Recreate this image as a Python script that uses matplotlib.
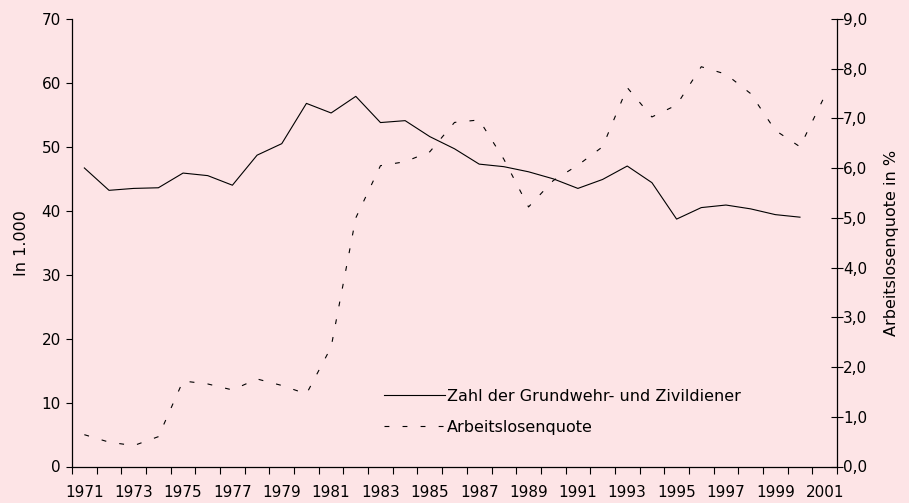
import matplotlib
matplotlib.use("Agg")
import matplotlib.pyplot as plt
import numpy as np
from matplotlib.ticker import FixedLocator, FuncFormatter

plt.rcParams['font.family'] = ['DejaVu Sans']
plt.rcParams['lines.scale_dashes'] = False

years = list(range(1971, 2002))
tick_labels = [str(y) for y in years if (y - 1971) % 2 == 0]

# Zahl der Grundwehr- und Zivildiener (in 1.000), 1971-2000
dienst = [46.7, 43.2, 43.5, 43.6, 45.9, 45.5, 44.0, 48.7, 50.5, 56.8,
          55.3, 57.9, 53.8, 54.1, 51.6, 49.7, 47.3, 46.9, 46.1, 45.0,
          43.5, 44.9, 47.0, 44.4, 38.7, 40.5, 40.9, 40.3, 39.4, 39.0]

# Arbeitslosenquote in %, 1971-2001
alq = [0.64, 0.49, 0.42, 0.60, 1.72, 1.66, 1.54, 1.76, 1.63, 1.46,
       2.40, 5.00, 6.05, 6.13, 6.33, 6.92, 6.97, 6.18, 5.22, 5.75,
       6.06, 6.43, 7.62, 7.03, 7.27, 8.04, 7.89, 7.50, 6.76, 6.43, 7.45]

label_dienst = "Zahl der Grundwehr- und Zivildiener"
label_alq = "Arbeitslosenquote"

bg = '#fde4e6'
W, H = 909, 503
fig = plt.figure(figsize=(W / 100, H / 100), dpi=100, facecolor=bg)
L, R, T, B = 72, 837, 19, 466.5
ax = fig.add_axes([L / W, 1 - B / H, (R - L) / W, (B - T) / H])
ax.set_facecolor(bg)
ax2 = ax.twinx()

x = np.arange(len(years))
x_d = x[:len(dienst)]
l1, = ax.plot(x_d, dienst, color='black', lw=0.8, label=label_dienst)
l2, = ax2.plot(x, alq, color='black', lw=0.8, linestyle=(0, (3.5, 9.5)), label=label_alq)

ax.set_xlim(-0.5, len(years) - 0.5)
ax.set_ylim(0, 70)
ax2.set_ylim(0, 9)
ax.set_yticks(range(0, 71, 10))
ax2.set_yticks(range(0, 10))
ax2.yaxis.set_major_formatter(FuncFormatter(lambda v, p: f"{v:.1f}".replace('.', ',')))

ax.xaxis.set_major_locator(FixedLocator(np.arange(-0.5, len(years), 1)))
ax.xaxis.set_major_formatter(FuncFormatter(lambda v, p: ''))
ax.xaxis.set_minor_locator(FixedLocator(x[::2]))
ax.set_xticklabels(tick_labels, minor=True)
ax.tick_params(axis='x', which='major', direction='out', length=5, width=0.8, color='black')
ax.tick_params(axis='x', which='minor', length=0, pad=13, labelsize=11)
ax.tick_params(axis='y', direction='out', length=4, width=0.8, labelsize=11, pad=4)
ax2.tick_params(axis='y', direction='inout', length=9, width=0.8, labelsize=11, pad=0)

for a in (ax, ax2):
    a.spines['top'].set_visible(False)
    for s in ('left', 'right', 'bottom'):
        a.spines[s].set_linewidth(0.9)
ax.spines['right'].set_visible(False)
ax2.spines['left'].set_visible(False)
ax2.spines['bottom'].set_visible(False)

ax.set_ylabel("In 1.000", fontsize=11.5, labelpad=9)
ax2.set_ylabel("Arbeitslosenquote in %", fontsize=11.5, labelpad=12)

leg = ax2.legend(handles=[l1, l2], loc='lower left', bbox_to_anchor=(384 / W, 1 - 435 / H),
                 bbox_transform=fig.transFigure, frameon=False, fontsize=11.5,
                 handlelength=3.8, handletextpad=0.15, labelspacing=1.03,
                 borderpad=0, borderaxespad=0)

fig.savefig("out.png", dpi=100, facecolor=bg)
